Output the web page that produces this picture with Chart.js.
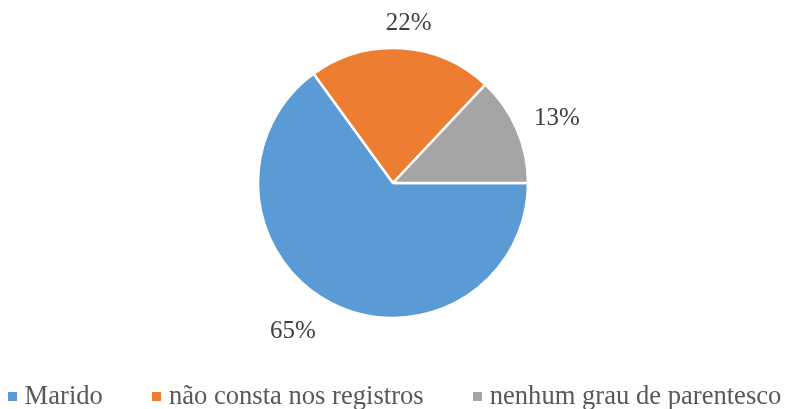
<!DOCTYPE html>
<html lang="pt">
<head>
  <meta charset="UTF-8" />
  <title>Parentesco</title>
  <script src="https://cdn.jsdelivr.net/npm/chart.js"></script>
  <style>
    html, body { margin: 0; padding: 0; background: #fff; }
    #wrap { position: relative; width: 789px; height: 409px; overflow: hidden; }
    #chart { position: absolute; left: 0; top: 0; }
    #legend {
      position: absolute; left: 0; top: 380px; width: 789px;
      display: flex; justify-content: center; gap: 49px;
      font-family: "Liberation Serif", "Times New Roman", serif;
      font-size: 26.6px; line-height: 30px; color: #595959;
      white-space: nowrap;
    }
    #legend .item { display: flex; align-items: center; }
    #legend .box { width: 9px; height: 9px; margin-right: 8px; margin-top: 2px; }
  </style>
</head>
<body>
  <div id="wrap">
    <canvas id="chart" width="789" height="409"></canvas>
    <div id="legend"></div>
  </div>

  <script>
    const categories = ['Marido', 'não consta nos registros', 'nenhum grau de parentesco'];
    const values = [65, 22, 13];
    const colors = ['#5B9BD5', '#ED7D31', '#A5A5A5'];

    // label placement beyond the pie edge: extra distance and small angle nudge (deg)
    const labelGap = [44, 25, 41];
    const labelNudge = [7, 2, 2];
    const serif = '"Liberation Serif", "Times New Roman", serif';

    const pctLabels = {
      id: 'pctLabels',
      afterDatasetsDraw(chart) {
        const ctx = chart.ctx;
        const arcs = chart.getDatasetMeta(0).data;
        ctx.save();
        ctx.font = '25px ' + serif;
        ctx.fillStyle = '#404040';
        ctx.textAlign = 'center';
        ctx.textBaseline = 'middle';
        arcs.forEach((arc, i) => {
          const p = arc.getProps(['x', 'y', 'startAngle', 'endAngle', 'outerRadius'], true);
          const mid = (p.startAngle + p.endAngle) / 2 + labelNudge[i] * Math.PI / 180;
          const d = p.outerRadius + labelGap[i];
          ctx.fillText(values[i] + '%', p.x + Math.cos(mid) * d, p.y + Math.sin(mid) * d);
        });
        ctx.restore();
      }
    };

    const ctx = document.getElementById('chart').getContext('2d');
    const chart = new Chart(ctx, {
      type: 'pie',
      data: {
        labels: categories,
        datasets: [{
          data: values,
          backgroundColor: colors,
          borderColor: '#ffffff',
          borderWidth: 2.5
        }]
      },
      options: {
        responsive: false,
        animation: false,
        rotation: 90,
        radius: 135,
        layout: { padding: { top: 0, bottom: 43, left: 0, right: 3 } },
        plugins: {
          tooltip: { enabled: false },
          legend: { display: false }
        }
      },
      plugins: [pctLabels]
    });

    // html legend built from the chart's own label items
    const legendEl = document.getElementById('legend');
    Chart.overrides.pie.plugins.legend.labels.generateLabels(chart).forEach(it => {
      const item = document.createElement('div');
      item.className = 'item';
      const box = document.createElement('span');
      box.className = 'box';
      box.style.background = it.fillStyle;
      const txt = document.createElement('span');
      txt.textContent = it.text;
      item.appendChild(box);
      item.appendChild(txt);
      legendEl.appendChild(item);
    });
  </script>
</body>
</html>
